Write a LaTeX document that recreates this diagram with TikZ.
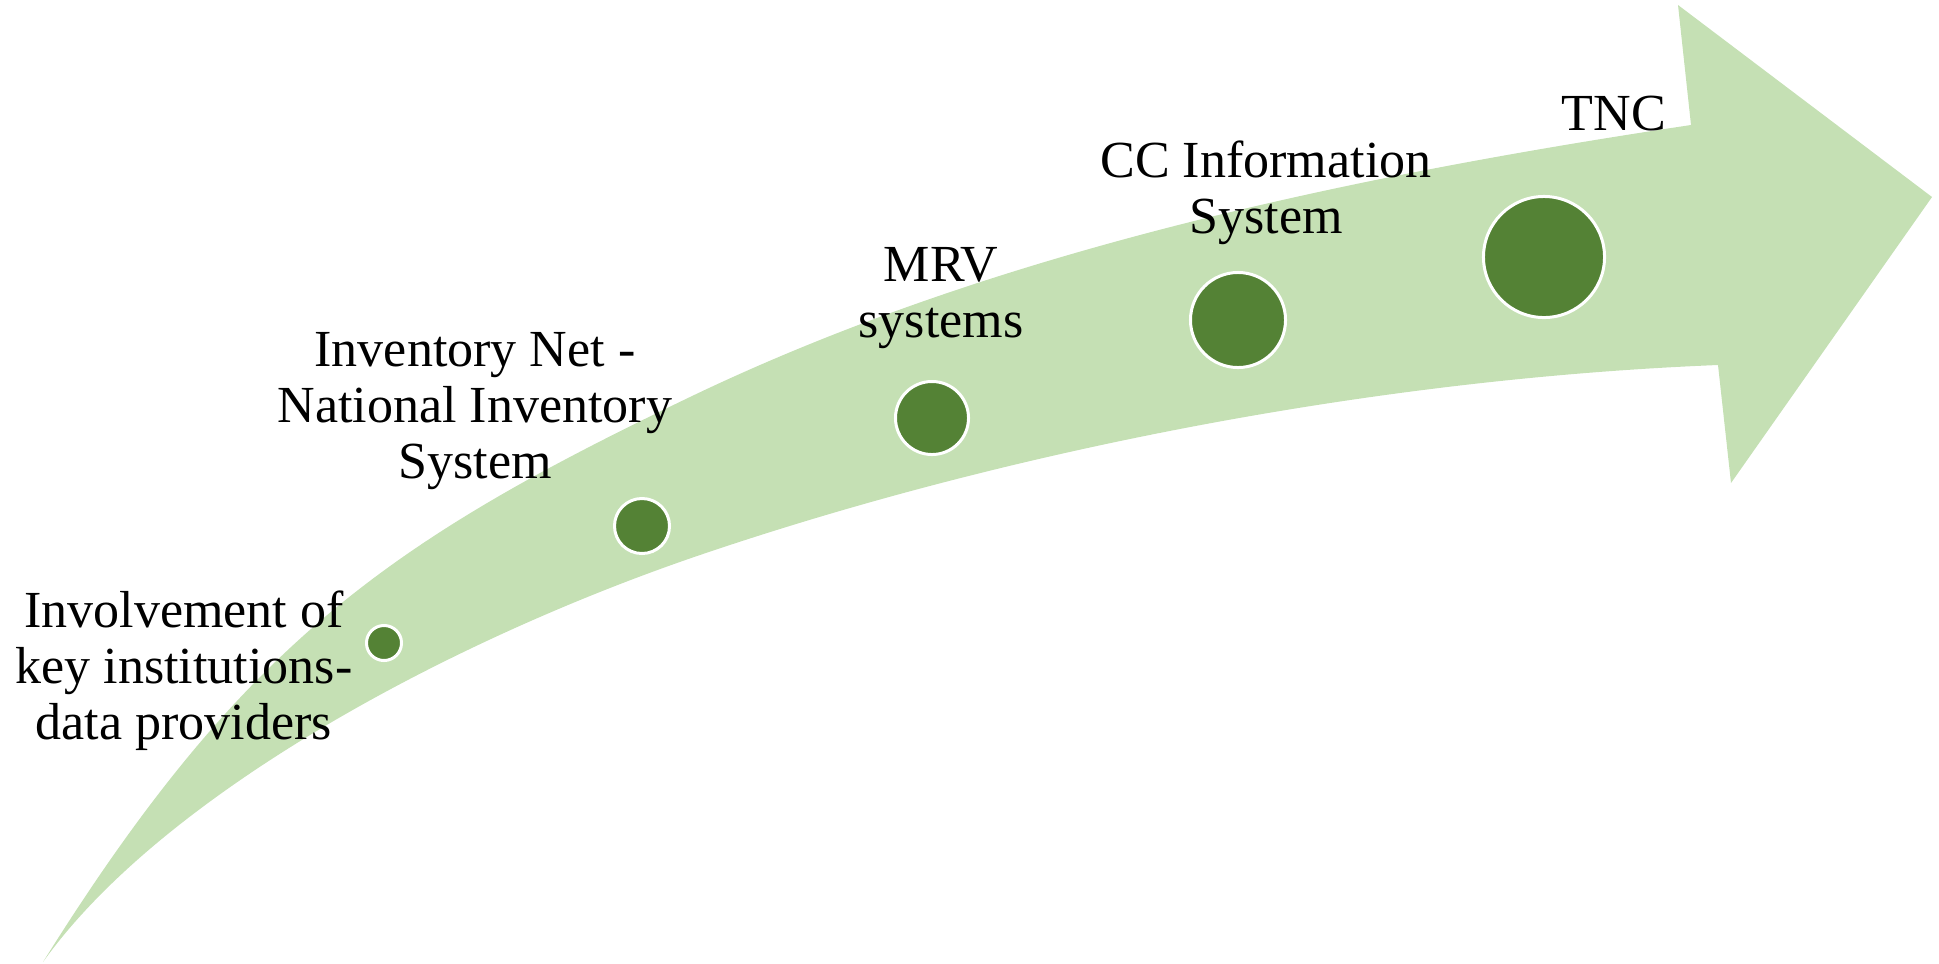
\documentclass[tikz,border=0pt]{standalone}
\usepackage{fontspec}
\setmainfont{Liberation Serif}
\definecolor{bandgreen}{HTML}{C5E0B4}
\definecolor{dotgreen}{HTML}{548235}
\begin{document}
\begin{tikzpicture}[x=0.01cm,y=-0.01cm,
  dot/.style={circle, inner sep=0pt, fill=dotgreen, draw=white, line width=0.03cm},
  steptext/.style={align=center, anchor=base, inner sep=0pt,
    font=\fontsize{14.8pt}{15.9pt}\selectfont}]
\useasboundingbox (0,0) rectangle (1939,963);

% curved block arrow
\fill[bandgreen]
  (43,962) .. controls (243,642) and (390,541) .. (690,397)
           .. controls (990,253) and (1341,177.5) .. (1691,125)
  -- (1678,5) -- (1932,197) -- (1731,483) -- (1718,365)
  .. controls (1368,379) and (1000,453) .. (700,555)
  .. controls (450,640) and (163,794) .. (43,962)
  -- cycle;

% milestones
\node[dot, minimum size=0.35cm] (m1) at (384,643) {};
\node[dot, minimum size=0.55cm] (m2) at (642,526) {};
\node[dot, minimum size=0.73cm] (m3) at (932,418) {};
\node[dot, minimum size=0.95cm] (m4) at (1238,320) {};
\node[dot, minimum size=1.21cm] (m5) at (1544,257) {};

% captions (anchored at the baseline of the last line)
\node[steptext] (t1) at (184,739) {Involvement of\\key institutions-\\data providers};
\node[steptext] (t2) at (475,478) {Inventory Net -\\National Inventory\\System};
\node[steptext] (t3) at (941,337) {MRV\\systems};
\node[steptext] (t4) at (1266,233) {CC Information\\System};
\node[steptext] (t5) at (1614,130) {TNC};
\end{tikzpicture}
\end{document}
